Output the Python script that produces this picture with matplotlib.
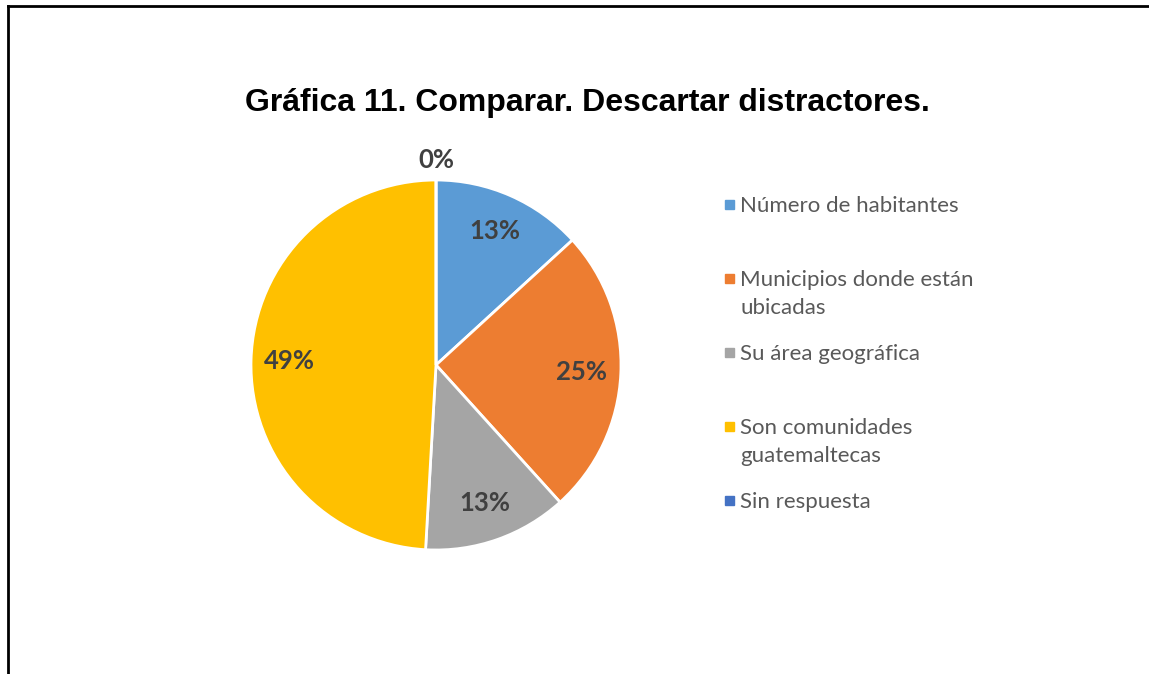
import numpy as np
import matplotlib.pyplot as plt
from matplotlib.lines import Line2D
from matplotlib.patches import Rectangle

# datos (porcentajes)
categorias = ["Número de habitantes", "Municipios donde están\nubicadas",
              "Su área geográfica", "Son comunidades\nguatemaltecas", "Sin respuesta"]
valores = [13.2, 25.1, 12.6, 49.1, 0.0]
etiquetas = ["13%", "25%", "13%", "49%", "0%"]
colores = ["#5B9BD5", "#ED7D31", "#A5A5A5", "#FFC000", "#4472C4"]

W, H = 1149, 674
fig = plt.figure(figsize=(W / 100, H / 100), dpi=100)

# pie centrado en (436, 365) px, radio 185 px
cx, cy, r = 436, 365, 185
ax = fig.add_axes([(cx - r) / W, (H - cy - r) / H, 2 * r / W, 2 * r / H])
wedges, _ = ax.pie(valores, colors=colores, startangle=90, counterclock=False,
                   radius=1, wedgeprops=dict(edgecolor="white", linewidth=2))
ax.set_xlim(-1, 1)
ax.set_ylim(-1, 1)
ax.set_aspect("equal")
ax.axis("off")

# etiquetas de porcentaje
for w, lab, v in zip(wedges, etiquetas, valores):
    ang = np.deg2rad((w.theta1 + w.theta2) / 2)
    d = 0.79 if v > 0 else 1.11
    ax.text(d * np.cos(ang), d * np.sin(ang), lab, ha="center", va="center",
            fontsize=18.5, fontweight="bold", color="#404040", family="Lato",
            clip_on=False)

fig.text(587 / W, 1 - 103 / H, "Gráfica 11. Comparar. Descartar distractores.",
         ha="center", va="center", fontsize=23, fontweight="bold",
         family="Liberation Sans", color="black")

# leyenda a la derecha
for i, (cat, col) in enumerate(zip(categorias, colores)):
    ytop = 204 + 74 * i
    fig.add_artist(Rectangle(((725) / W, 1 - (ytop + 5) / H), 9 / W, 9 / H,
                             transform=fig.transFigure, color=col))
    lineas = cat.split("\n")
    for j, linea in enumerate(lineas):
        fig.text(740 / W, 1 - (ytop + 8 + 28 * j) / H, linea, ha="left",
                 va="baseline", fontsize=16, family="Lato", color="#595959")

# borde (solo arriba e izquierda visibles)
fig.add_artist(Line2D([7.5 / W, 7.5 / W], [0, 1 - 5.5 / H], color="black",
                      linewidth=2, transform=fig.transFigure))
fig.add_artist(Line2D([7.5 / W, 1], [1 - 5.5 / H, 1 - 5.5 / H], color="black",
                      linewidth=2, transform=fig.transFigure))

fig.savefig("out.png", dpi=100, facecolor="white")
